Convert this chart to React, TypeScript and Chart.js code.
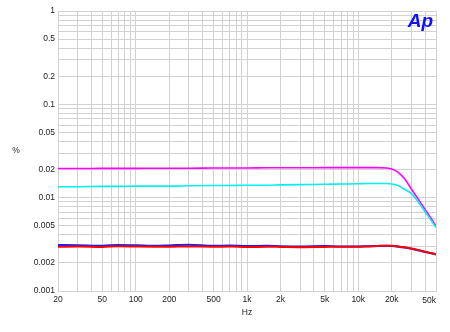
import React, { useEffect, useRef } from 'react';
import { Chart, registerables } from 'chart.js';

Chart.register(...registerables);

const freqs = [20, 30, 50, 70, 100, 150, 200, 300, 500, 700, 1000, 1500, 2000, 3000, 5000, 7000, 10000, 12000, 15000, 18000, 20000, 23000, 26000, 30000, 35000, 40000, 45000, 50000];

const magentaValues = [0.0205, 0.0205, 0.0206, 0.0206, 0.0206, 0.0207, 0.0207, 0.0207, 0.0208, 0.0208, 0.0208, 0.0209, 0.0209, 0.0209, 0.0210, 0.0210, 0.0210, 0.0210, 0.0210, 0.0208, 0.0203, 0.0186, 0.0160, 0.0124, 0.00946, 0.00744, 0.00602, 0.00496];
const cyanValues = [0.0131, 0.0131, 0.0132, 0.0132, 0.0133, 0.0133, 0.0133, 0.0134, 0.0135, 0.0135, 0.0136, 0.0136, 0.0137, 0.0138, 0.0139, 0.0140, 0.0141, 0.0142, 0.0142, 0.0142, 0.0140, 0.0134, 0.0123, 0.0111, 0.00884, 0.00703, 0.00575, 0.00480];
const blueValues = [0.00312, 0.00310, 0.00305, 0.00312, 0.00310, 0.00305, 0.00308, 0.00313, 0.00305, 0.00307, 0.00303, 0.00305, 0.00302, 0.00300, 0.00303, 0.00300, 0.00300, 0.00302, 0.00304, 0.00305, 0.00303, 0.00298, 0.00292, 0.00283, 0.00272, 0.00262, 0.00254, 0.00246];
const redValues = [0.00298, 0.00300, 0.00297, 0.00301, 0.00299, 0.00298, 0.00298, 0.00300, 0.00298, 0.00299, 0.00296, 0.00298, 0.00297, 0.00295, 0.00297, 0.00298, 0.00298, 0.00300, 0.00304, 0.00306, 0.00305, 0.00300, 0.00294, 0.00285, 0.00274, 0.00263, 0.00255, 0.00248];

const xLabelTicks = [20, 50, 100, 200, 500, 1000, 2000, 5000, 10000, 20000];
const xLabelTexts = ['20', '50', '100', '200', '500', '1k', '2k', '5k', '10k', '20k'];
const xLastLabel = '50k';
const yLabelTicks = [0.001, 0.002, 0.005, 0.01, 0.02, 0.05, 0.1, 0.2, 0.5, 1];
const yLabelTexts = ['0.001', '0.002', '0.005', '0.01', '0.02', '0.05', '0.1', '0.2', '0.5', '1'];

const xMin = 20;
const xMax = 50000;
const yMin = 0.001;
const yMax = 1;

const FONT = '"Liberation Sans", Arial, sans-serif';
const TEXT_COLOR = '#222';
const GRID_COLOR = '#d2d2d2';

function decadeTicks(min: number, max: number) {
  const out: { value: number }[] = [];
  for (let e = -4; e <= 6; e++) {
    for (let m = 1; m <= 9; m++) {
      const v = Number((m * Math.pow(10, e)).toPrecision(6));
      if (v >= min * 0.9999 && v <= max * 1.0001) out.push({ value: v });
    }
  }
  return out;
}

function findLabel(value: number, ticks: number[], texts: string[]) {
  for (let i = 0; i < ticks.length; i++) {
    if (Math.abs(value - ticks[i]) / ticks[i] < 1e-6) return texts[i];
  }
  return '';
}

const extraText = {
  id: 'extraText',
  afterDraw(chart: any) {
    const ctx = chart.ctx;
    const a = chart.chartArea;
    ctx.save();
    ctx.fillStyle = TEXT_COLOR;
    ctx.font = `8.5px ${FONT}`;
    ctx.textBaseline = 'middle';
    ctx.textAlign = 'center';
    ctx.fillText('%', 16, (a.top + a.bottom) / 2);
    ctx.fillText('Hz', (a.left + a.right) / 2, a.bottom + 22);
    ctx.textAlign = 'right';
    const xp = chart.scales.x.getPixelForValue(xMax);
    ctx.fillText(xLastLabel, xp, a.bottom + 9.5);
    ctx.fillStyle = '#1010ff';
    ctx.font = `italic bold 19px ${FONT}`;
    ctx.textBaseline = 'alphabetic';
    ctx.textAlign = 'right';
    ctx.fillText('Ap', a.right - 3, a.top + 16);
    ctx.restore();
  },
};

export default function App() {
  const ref = useRef<HTMLCanvasElement | null>(null);
  useEffect(() => {
    if (!ref.current) return;
    const mk = (vals: number[]) => freqs.map((f, i) => ({ x: f, y: vals[i] }));
    const common = { pointRadius: 0, cubicInterpolationMode: 'monotone' as const };
    const chart = new Chart(ref.current, {
      type: 'line',
      data: {
        datasets: [
          { label: 'red', data: mk(redValues), borderColor: '#ff0000', borderWidth: 2, ...common },
          { label: 'blue', data: mk(blueValues), borderColor: '#1a1aff', borderWidth: 2, ...common },
          { label: 'cyan', data: mk(cyanValues), borderColor: '#00f0f0', borderWidth: 1.6, ...common },
          { label: 'magenta', data: mk(magentaValues), borderColor: '#ff00ff', borderWidth: 1.6, ...common },
        ],
      },
      options: {
        responsive: false,
        animation: false,
        events: [],
        layout: { padding: { top: 11, right: 14, left: 0, bottom: 0 } },
        plugins: { legend: { display: false }, tooltip: { enabled: false }, title: { display: false } },
        scales: {
          x: {
            type: 'logarithmic',
            min: xMin,
            max: xMax,
            afterBuildTicks: (s: any) => { s.ticks = decadeTicks(xMin, xMax); },
            afterFit: (s: any) => { s.height = 41; },
            grid: { color: GRID_COLOR, drawTicks: false, lineWidth: 1 },
            border: { display: true, color: GRID_COLOR },
            ticks: {
              autoSkip: false,
              maxRotation: 0,
              minRotation: 0,
              padding: 4,
              color: TEXT_COLOR,
              font: { family: FONT, size: 8.5 },
              callback: (v: any) => findLabel(Number(v), xLabelTicks, xLabelTexts),
            },
          },
          y: {
            type: 'logarithmic',
            min: yMin,
            max: yMax,
            afterBuildTicks: (s: any) => { s.ticks = decadeTicks(yMin, yMax); },
            afterFit: (s: any) => { s.width = 58; },
            grid: { color: GRID_COLOR, drawTicks: false, lineWidth: 1 },
            border: { display: true, color: GRID_COLOR },
            ticks: {
              autoSkip: false,
              padding: 3,
              color: TEXT_COLOR,
              font: { family: FONT, size: 8.5 },
              callback: (v: any) => findLabel(Number(v), yLabelTicks, yLabelTexts),
            },
          },
        },
      },
      plugins: [extraText],
    });
    return () => chart.destroy();
  }, []);
  return (
    <div style={{ position: 'fixed', left: 0, top: 0, width: 450, height: 332, background: '#fff' }}>
      <canvas ref={ref} width={450} height={332} style={{ display: 'block' }} />
    </div>
  );
}
